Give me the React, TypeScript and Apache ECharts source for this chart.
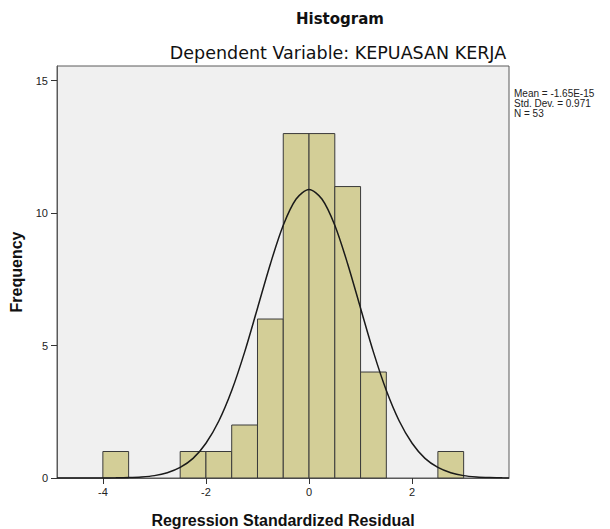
import React, { useEffect, useRef } from "react";
import * as echarts from "echarts";

// Histogram bins (regression standardized residual) and their frequencies
const binStarts = [-4, -2.5, -2, -1.5, -1, -0.5, 0, 0.5, 1, 2.5];
const binEnds = [-3.5, -2, -1.5, -1, -0.5, 0, 0.5, 1, 1.5, 3];
const counts = [1, 1, 1, 2, 6, 13, 13, 11, 4, 1];

// Normal curve
const curveX = [-4.89, -4.75, -4.5, -4.25, -4, -3.75, -3.5, -3.25, -3, -2.75, -2.5, -2.25, -2, -1.75, -1.5, -1.25, -1, -0.75, -0.5, -0.25, 0, 0.25, 0.5, 0.75, 1, 1.25, 1.5, 1.75, 2, 2.25, 2.5, 2.75, 3, 3.25, 3.5, 3.75, 3.88];
const curveY = [0.0003, 0.0004, 0.0008, 0.0015, 0.002, 0.006, 0.016, 0.04, 0.09, 0.2, 0.4, 0.74, 1.31, 2.15, 3.3, 4.75, 6.41, 8.08, 9.54, 10.53, 10.89, 10.53, 9.54, 8.08, 6.41, 4.75, 3.3, 2.15, 1.31, 0.74, 0.4, 0.2, 0.09, 0.04, 0.016, 0.006, 0.003];

const yTicks = [0, 5, 10, 15];
const xTicks = [-4, -2, 0, 2];
const statsLines = ["Mean = -1.65E-15", "Std. Dev. = 0.971", "N = 53"];

export default function App() {
  const ref = useRef<HTMLDivElement>(null);
  useEffect(() => {
    if (!ref.current) return;
    const chart = echarts.init(ref.current, null, { renderer: "svg" });
    const bins = binStarts.map((s, i) => [s, binEnds[i], counts[i]]);
    const curve = curveX.map((x, i) => [x, curveY[i]]);
    const axisFont = "'Liberation Sans', Arial, sans-serif";
    chart.setOption({
      animation: false,
      backgroundColor: "#ffffff",
      grid: {
        left: 57,
        right: 101,
        top: 66,
        bottom: 51,
        outerBoundsMode: "none",
        containLabel: false,
        show: true,
        backgroundColor: "#F0F0F0",
        borderColor: "#5a5a5a",
        borderWidth: 1,
      },
      xAxis: {
        type: "value",
        min: -4.89,
        max: 3.88,
        name: "Regression Standardized Residual",
        nameLocation: "middle",
        nameGap: 34,
        nameTextStyle: { fontFamily: axisFont, fontWeight: "bold", fontSize: 16, color: "#111" },
        axisLine: { show: true, onZero: false, lineStyle: { color: "#5a5a5a", width: 1 } },
        axisTick: { show: true, length: 6, customValues: xTicks, lineStyle: { color: "#333" } },
        axisLabel: { customValues: xTicks, margin: 8, fontFamily: axisFont, fontSize: 11, color: "#222" },
        splitLine: { show: false },
      },
      yAxis: {
        type: "value",
        min: 0,
        max: 15.55,
        name: "Frequency",
        nameLocation: "middle",
        nameGap: 31,
        nameTextStyle: { fontFamily: axisFont, fontWeight: "bold", fontSize: 16, color: "#111" },
        axisLine: { show: true, onZero: false, lineStyle: { color: "#5a5a5a", width: 1 } },
        axisTick: { show: true, length: 6, customValues: yTicks, lineStyle: { color: "#333" } },
        axisLabel: { customValues: yTicks, margin: 9, fontFamily: axisFont, fontSize: 11, color: "#222" },
        splitLine: { show: false },
      },
      graphic: [
        {
          type: "text",
          x: 340,
          y: 19,
          style: {
            text: "Histogram",
            fontFamily: "'DejaVu Sans', sans-serif",
            fontWeight: "bold",
            fontSize: 15,
            fill: "#111",
            textAlign: "center",
            textVerticalAlign: "middle",
          },
        },
        {
          type: "text",
          x: 338,
          y: 53,
          style: {
            text: "Dependent Variable: KEPUASAN KERJA",
            fontFamily: "'DejaVu Sans', sans-serif",
            fontSize: 17.5,
            fill: "#111",
            textAlign: "center",
            textVerticalAlign: "middle",
          },
        },
        {
          type: "text",
          x: 514,
          y: 88,
          style: {
            text: statsLines.join("\n"),
            fontFamily: axisFont,
            fontSize: 10,
            lineHeight: 10,
            fill: "#222",
            textAlign: "left",
            textVerticalAlign: "top",
          },
        },
      ],
      series: [
        {
          type: "custom",
          data: bins,
          encode: { x: [0, 1], y: 2 },
          renderItem: (params: any, api: any) => {
            const p0 = api.coord([api.value(0), api.value(2)]);
            const p1 = api.coord([api.value(1), 0]);
            return {
              type: "rect",
              shape: { x: p0[0], y: p0[1], width: p1[0] - p0[0], height: p1[1] - p0[1] },
              style: { fill: "#D3CE97", stroke: "#3a3a3a", lineWidth: 1 },
            };
          },
          z: 2,
        },
        {
          type: "line",
          data: curve,
          smooth: 0.3,
          showSymbol: false,
          symbol: "none",
          lineStyle: { color: "#1a1a1a", width: 1.5 },
          z: 3,
        },
      ],
    });
    return () => chart.dispose();
  }, []);
  return (
    <div
      ref={ref}
      style={{ position: "fixed", left: 0, top: 0, width: 610, height: 529 }}
    />
  );
}
